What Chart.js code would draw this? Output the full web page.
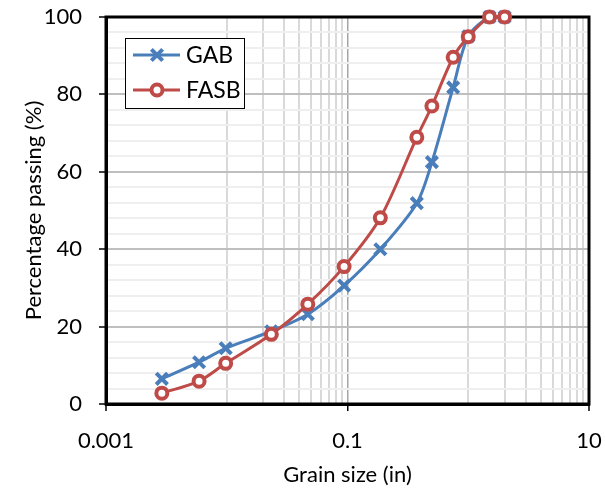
<!DOCTYPE html>
<html lang="en">
<head>
<meta charset="UTF-8">
<title>Grain size distribution</title>
<script src="https://cdn.jsdelivr.net/npm/chart.js"></script>
<style>
  body { margin: 0; padding: 0; background: #fff; }
</style>
</head>
<body>
<canvas id="myChart" width="605" height="493"></canvas>
<script>
// sieve sizes (in) and percent passing
const sieveSizes = [0.0029, 0.0059, 0.0098, 0.0234, 0.0469, 0.0937, 0.187, 0.375, 0.5, 0.75, 1.0, 1.5, 2.0];
const gabPassing = [6.5, 10.8, 14.4, 18.8, 23.2, 30.6, 40.0, 51.9, 62.5, 81.8, 95.0, 100, 100];
const fasbPassing = [2.8, 5.9, 10.5, 18.0, 25.8, 35.5, 48.1, 68.9, 77.0, 89.6, 94.9, 100, 100];

// axis ticks
const xLabelTicks = [0.001, 0.1, 10];
const xMinorGrid = [0.01, 0.02, 0.03, 0.04, 0.05, 0.06, 0.07, 0.08, 0.09, 1, 2, 3, 4, 5, 6, 7, 8, 9];
const yLabelTicks = [0, 20, 40, 60, 80, 100];

Chart.defaults.font.family = 'Lato, "Open Sans", sans-serif';
Chart.defaults.font.size = 22;
Chart.defaults.color = '#000';

// black frame round the plot area
const plotFrame = {
  id: 'plotFrame',
  beforeDatasetsDraw(chart) {
    const a = chart.chartArea, ctx = chart.ctx;
    ctx.save();
    ctx.strokeStyle = '#000';
    ctx.lineWidth = 3;
    ctx.strokeRect(a.left, a.top, a.right - a.left, a.bottom - a.top);
    ctx.restore();
  }
};

// boxed legend in the top-left corner of the plot
const legendBox = {
  id: 'legendBox',
  afterDraw(chart) {
    const a = chart.chartArea, ctx = chart.ctx;
    const x = a.left + 19, y = a.top + 21, w = 119, h = 70;
    ctx.save();
    ctx.fillStyle = '#fff';
    ctx.fillRect(x, y, w, h);
    ctx.strokeStyle = '#000';
    ctx.lineWidth = 1;
    ctx.strokeRect(x + 0.5, y + 0.5, w, h);
    chart.data.datasets.forEach((ds, i) => {
      const cy = y + 17 + i * 35;
      const mx = x + 32;
      ctx.strokeStyle = ds.borderColor;
      ctx.lineWidth = 3;
      ctx.beginPath();
      ctx.moveTo(x + 8, cy);
      ctx.lineTo(x + 55, cy);
      ctx.stroke();
      ctx.lineWidth = ds.pointBorderWidth;
      if (ds.pointStyle === 'crossRot') {
        const r = ds.pointRadius * 0.707;
        ctx.beginPath();
        ctx.moveTo(mx - r, cy - r); ctx.lineTo(mx + r, cy + r);
        ctx.moveTo(mx - r, cy + r); ctx.lineTo(mx + r, cy - r);
        ctx.stroke();
      } else {
        ctx.beginPath();
        ctx.arc(mx, cy, ds.pointRadius, 0, Math.PI * 2);
        ctx.fillStyle = ds.pointBackgroundColor;
        ctx.fill();
        ctx.stroke();
      }
      ctx.fillStyle = '#000';
      ctx.font = '23px Lato, "Open Sans", sans-serif';
      ctx.textBaseline = 'middle';
      ctx.fillText(ds.label, x + 61, cy + 1);
    });
    ctx.restore();
  }
};

const ctx = document.getElementById('myChart').getContext('2d');
const chart = new Chart(ctx, {
  type: 'line',
  data: {
    datasets: [{
      label: 'GAB',
      data: sieveSizes.map((s, i) => ({ x: s, y: gabPassing[i] })),
      borderColor: '#4A7EBB',
      backgroundColor: '#4A7EBB',
      borderWidth: 3,
      pointStyle: 'crossRot',
      pointRadius: 8,
      pointBorderWidth: 4,
      pointBorderColor: '#4A7EBB',
      pointBackgroundColor: '#4A7EBB',
      tension: 0.3,
      clip: false,
      order: 1
    }, {
      label: 'FASB',
      data: sieveSizes.map((s, i) => ({ x: s, y: fasbPassing[i] })),
      borderColor: '#BE4B48',
      backgroundColor: '#BE4B48',
      borderWidth: 3,
      pointStyle: 'circle',
      pointRadius: 5.5,
      pointBorderWidth: 4,
      pointBorderColor: '#BE4B48',
      pointBackgroundColor: '#fff',
      tension: 0.3,
      clip: false,
      order: 0
    }]
  },
  options: {
    responsive: false,
    animation: false,
    layout: { padding: { top: 17, right: 16, left: 0, bottom: 0 } },
    plugins: {
      legend: { display: false },
      tooltip: { enabled: false }
    },
    scales: {
      x: {
        type: 'logarithmic',
        min: 0.001,
        max: 10,
        afterBuildTicks(scale) {
          scale.ticks = xLabelTicks.concat(xMinorGrid).sort((a, b) => a - b).map(v => ({ value: v }));
        },
        afterFit(scale) {
          scale.height = 89;
          scale.paddingLeft = 0;
          scale.paddingRight = 0;
        },
        ticks: {
          autoSkip: false,
          maxRotation: 0,
          padding: 17,
          callback: v => xLabelTicks.includes(v) ? String(v) : ''
        },
        grid: {
          color: c => (c.tick && c.tick.value === 0.1) ? '#a6a6a6' : '#d9d9d9',
          lineWidth: c => (c.tick && c.tick.value === 0.1) ? 1.5 : 2,
          tickColor: c => (c.tick && xLabelTicks.includes(c.tick.value)) ? '#000' : 'rgba(0,0,0,0)',
          tickLength: 7,
          tickWidth: 1.5
        },
        border: { color: '#000', width: 3 },
        title: {
          display: true,
          text: 'Grain size (in)',
          font: { size: 22 },
          padding: { top: 0, bottom: 5 }
        }
      },
      y: {
        min: 0,
        max: 100,
        afterFit(scale) {
          scale.width = 106;
          scale.paddingTop = 0;
          scale.paddingBottom = 0;
        },
        ticks: {
          stepSize: 4,
          autoSkip: false,
          padding: 17,
          callback: v => yLabelTicks.includes(v) ? String(v) : ''
        },
        grid: {
          color: c => (c.tick && c.tick.value % 20 === 0) ? '#bfbfbf' : '#efefef',
          lineWidth: 2,
          tickColor: c => (c.tick && c.tick.value % 20 === 0) ? '#000' : 'rgba(0,0,0,0)',
          tickLength: 7,
          tickWidth: 1.5
        },
        border: { color: '#000', width: 3 },
        title: {
          display: true,
          text: 'Percentage passing (%)',
          font: { size: 22 },
          padding: { top: 21, bottom: 0 }
        }
      }
    }
  },
  plugins: [plotFrame, legendBox]
});
</script>
</body>
</html>
